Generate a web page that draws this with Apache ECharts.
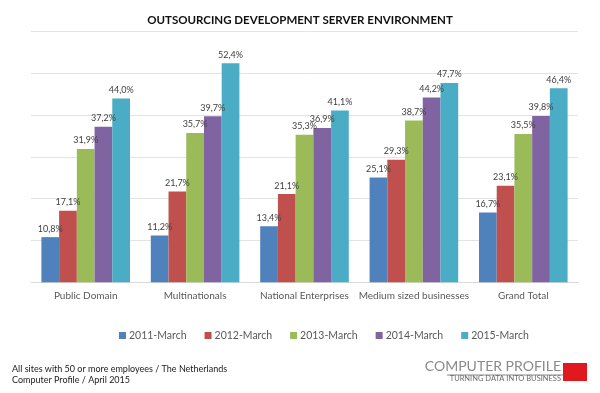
<!DOCTYPE html>
<html>
<head>
<meta charset="utf-8">
<script src="https://cdn.jsdelivr.net/npm/echarts@6/dist/echarts.min.js"></script>
<style>
html,body{margin:0;padding:0;background:#fff;}
#chart{width:600px;height:393px;}
</style>
</head>
<body>
<div id="chart"></div>
<script>
const categories = ['Public Domain', 'Multinationals', 'National Enterprises', 'Medium sized businesses', 'Grand Total'];
const seriesNames = ['2011-March', '2012-March', '2013-March', '2014-March', '2015-March'];
const s2011 = [10.8, 11.2, 13.4, 25.1, 16.7];
const s2012 = [17.1, 21.7, 21.1, 29.3, 23.1];
const s2013 = [31.9, 35.7, 35.3, 38.7, 35.5];
const s2014 = [37.2, 39.7, 36.9, 44.2, 39.8];
const s2015 = [44.0, 52.4, 41.1, 47.7, 46.4];
const colors = ['#4F81BD', '#C0504D', '#9BBB59', '#8064A2', '#4BACC6'];
const yTicks = [0, 10, 20, 30, 40, 50, 60];

const FONT = 'Lato, "Open Sans", sans-serif';
const allValues = [s2011, s2012, s2013, s2014, s2015];

const chart = echarts.init(document.getElementById('chart'));
chart.setOption({
  animation: false,
  color: colors,
  title: {
    text: 'OUTSOURCING DEVELOPMENT SERVER ENVIRONMENT',
    left: 'center',
    top: 9,
    textStyle: { fontFamily: FONT, fontSize: 11.5, fontWeight: 'bold', color: '#111' }
  },
  grid: { left: 31, right: 22, top: 31.5, bottom: 110.7 },
  xAxis: {
    type: 'category',
    data: categories,
    axisLine: { lineStyle: { color: '#d9d9d9' } },
    axisTick: { show: false },
    axisLabel: { interval: 0, color: '#595959', fontSize: 10, fontFamily: FONT, margin: 8 }
  },
  yAxis: {
    type: 'value',
    min: yTicks[0],
    max: yTicks[yTicks.length - 1],
    interval: 10,
    axisLabel: { show: false },
    axisLine: { show: false },
    axisTick: { show: false },
    splitLine: { lineStyle: { color: '#e3e3e3' } }
  },
  legend: {
    data: seriesNames,
    left: 114,
    top: 325,
    itemWidth: 7,
    itemHeight: 7,
    itemGap: 18,
    icon: 'rect',
    textStyle: { color: '#595959', fontSize: 10.5, fontFamily: FONT, padding: [0, 0, 0, -2] }
  },
  series: seriesNames.map((name, i) => ({
    name: name,
    type: 'bar',
    data: allValues[i],
    barGap: '0%',
    barCategoryGap: '19%',
    label: {
      show: true,
      position: 'top',
      distance: 4,
      fontSize: 9,
      fontFamily: FONT,
      color: '#404040',
      formatter: p => p.value.toFixed(1).replace('.', ',') + '%'
    }
  })),
  graphic: [
    { type: 'text', left: 12, top: 365, style: { text: 'All sites with 50 or more employees / The Netherlands', fontSize: 9, fontFamily: FONT, fill: '#1a1a1a' } },
    { type: 'text', left: 12, top: 376, style: { text: 'Computer Profile / April 2015', fontSize: 9, fontFamily: FONT, fill: '#1a1a1a' } },
    { type: 'text', right: 39, top: 359, style: { text: 'COMPUTER PROFILE', fontSize: 14, fontFamily: FONT, fill: '#8a8a8a' } },
    { type: 'rect', shape: { x: 447, y: 374.5, width: 116, height: 1 }, style: { fill: '#8a8a8a' } },
    { type: 'text', right: 39, top: 375, style: { text: 'TURNING DATA INTO BUSINESS', fontSize: 7.5, fontFamily: FONT, fill: '#6a6a6a' } },
    { type: 'rect', shape: { x: 563, y: 363, width: 24, height: 18 }, style: { fill: '#e0191f' } }
  ]
});
</script>
</body>
</html>
